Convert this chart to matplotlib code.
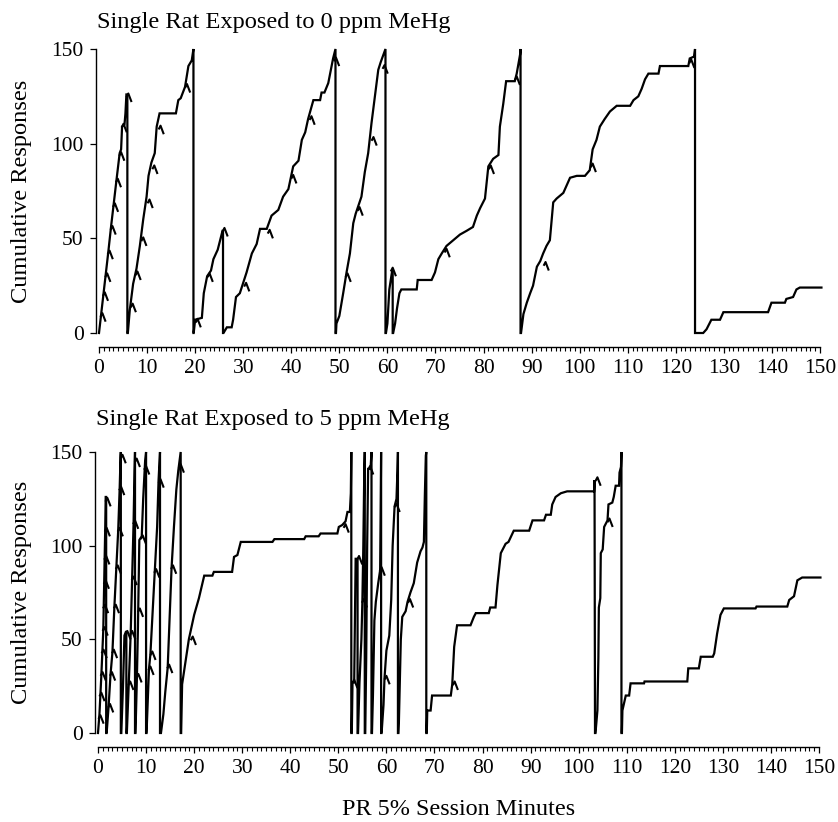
import matplotlib
matplotlib.use("Agg")
import matplotlib.pyplot as plt
from matplotlib.ticker import MultipleLocator

plt.rcParams['font.family'] = ['Liberation Serif', 'DejaVu Serif']

# ---- 0 ppm rat: cumulative record (minutes, responses); resets are drops to 0
t_0ppm = [0, 0.4, 0.9, 1.4, 1.9, 2.5, 3.0, 3.6, 4.3, 4.6, 4.8, 5.3, 5.5, 5.7, 5.9, 5.9,
          6.0, 6.4, 7.1, 7.8, 8.5, 9.2, 9.9, 10.3, 10.9, 11.6, 12.0, 12.6, 16.0, 16.5, 17.0,
          17.9, 18.6, 19.3, 19.65, 19.65,
          19.7, 20.0, 21.4, 21.8, 22.5, 23.3, 23.8, 24.7, 25.2, 25.7, 25.8, 25.8,
          25.9, 26.6, 27.6, 27.9, 28.5, 29.3, 30.7, 31.8, 32.8, 33.5, 34.9, 35.9, 37.3, 38.3,
          39.4, 40.4, 41.5, 42.2, 42.9, 43.5, 44.6, 46.0, 46.3, 46.9, 47.7, 48.4, 48.7, 49.2, 49.2,
          49.3, 49.4, 50.0, 50.8, 51.5, 52.2, 52.9, 53.4, 54.6, 55.3, 56.0, 56.7, 57.4, 58.1,
          58.6, 59.3, 59.6, 59.6,
          59.7, 60.0, 60.4, 61.0, 61.1, 61.1,
          61.2, 61.6, 62.0, 62.5, 62.9, 66.1, 66.3, 69.2, 69.9, 70.6, 71.3, 72.3, 73.7, 75.1,
          76.5, 77.8, 78.6, 79.3, 80.3, 81.0, 82.0, 83.1, 83.4, 84.1, 84.7, 86.5, 86.9, 87.6,
          87.7, 87.7,
          87.8, 88.3, 89.0, 89.7, 90.3, 91.1, 91.8, 92.4, 93.1, 93.8, 94.5, 95.2, 96.6, 97.3,
          98.0, 99.4, 101.1, 102.1, 102.7, 103.5, 104.2, 105.2, 106.3, 107.7, 110.5, 111.2,
          112.2, 112.9, 113.6, 114.3, 116.4, 116.7, 122.6, 122.9, 123.8, 124.0, 124.0,
          124.1, 125.7, 126.4, 127.4, 129.2, 129.9, 139.2, 139.9, 142.7, 143.0, 144.4, 145.1,
          145.8, 150.3]
c_0ppm = [0, 9, 20, 31, 42, 56, 67, 80, 95, 97, 109, 110, 116, 126, 126, 0,
          0, 12, 26, 34, 46, 60, 72, 83, 90, 95, 109, 116, 116, 123, 124,
          130, 141, 144, 150, 0,
          0, 7, 8, 21, 30, 33, 39, 44, 49, 54, 54, 0,
          0, 3, 3, 7, 19, 21, 32, 42, 47, 55, 55, 62, 65, 72,
          76, 88, 91, 102, 106, 113, 123, 123, 127, 127, 132, 141, 145, 150, 0,
          0, 5, 9, 21, 32, 42, 58, 63, 72, 85, 95, 111, 125, 139,
          143, 148, 150, 0,
          0, 5, 23, 33, 33, 0,
          0, 5, 13, 21, 23, 23, 28, 28, 32, 39, 42, 46, 49, 52,
          54, 56, 62, 66, 71, 88, 92, 94, 109, 121, 133, 133, 137, 147,
          150, 0,
          0, 10, 16, 21, 25, 35, 38, 42, 46, 49, 69, 71, 74, 78,
          82, 83, 83, 86, 97, 102, 109, 113, 117, 120, 120, 123,
          125, 129, 134, 137, 137, 141, 141, 145, 146, 150, 0,
          0, 0, 2, 7, 7, 11, 11, 16, 16, 18, 19, 23,
          24, 24]
pip_t_0ppm = [0.4, 0.9, 1.4, 1.9, 2.5, 3.0, 3.6, 4.3, 4.8, 5.8,
              6.7, 7.7, 8.9, 10.2, 11.2, 12.5, 18.0,
              20.2, 22.7, 25.8,
              30.3, 35.2, 40.1, 43.9, 49.0,
              51.4, 53.9, 56.8, 59.1,
              60.8, 72.0, 81.2, 86.6,
              92.6, 102.4, 122.9]
pip_c_0ppm = [9, 20, 30, 42, 55, 67, 80, 94, 109, 125,
              14, 31, 49, 69, 87, 108, 130,
              6, 30, 54,
              25, 53, 82, 113, 144,
              30, 65, 102, 140,
              33, 43, 87, 134,
              36, 88, 143]

# ---- 5 ppm rat
t_5ppm = [0, 0.3, 0.5, 0.7, 0.9, 1.1, 1.2, 1.3, 1.4, 1.5, 1.6, 1.7, 1.7,
          1.8, 2.2, 2.6, 3.0, 3.4, 3.8, 4.2, 4.5, 4.7, 4.75, 4.75,
          4.85, 5.2, 5.5, 5.8, 5.9, 5.9,
          6.0, 6.4, 6.8, 7.1, 7.4, 7.6, 7.7, 7.7,
          7.8, 8.1, 8.3, 8.6, 9.1, 9.4, 9.8, 10.0, 10.0,
          10.1, 10.4, 10.6, 10.9, 11.4, 11.8, 12.3, 12.6, 12.9, 12.9,
          13.1, 13.6, 14.0, 14.5, 14.9, 15.3, 15.8, 16.3, 16.7, 17.0, 17.2, 17.2,
          17.3, 17.5, 18.2, 18.9, 20.0, 21.0, 22.1, 23.8, 24.1, 27.9, 28.3, 29.0, 29.7,
          36.3, 36.7, 42.9, 43.2, 45.9, 46.3, 49.8, 50.1, 50.8, 51.5, 51.9, 52.4, 52.6,
          52.7, 52.7,
          52.8, 52.95, 53.3, 53.6, 54.0, 54.0,
          54.1, 54.4, 54.8, 55.0, 55.2, 55.4, 55.5, 55.5,
          55.6, 55.8, 56.0, 56.2, 56.7, 56.9, 56.9,
          57.0, 57.2, 57.5, 57.8, 58.3, 58.7, 58.8, 58.9, 58.9,
          59.0, 59.4, 59.6, 60.0, 60.6, 61.0, 61.3, 61.7, 62.1, 62.3, 62.4, 62.4,
          62.5, 62.6, 63.0, 63.3, 64.0, 64.4, 65.0, 65.7, 66.4, 67.1, 67.5, 67.8, 68.0,
          68.2, 68.3, 68.3,
          68.4, 68.5, 69.2, 69.5, 73.4, 73.7, 74.1, 74.7, 77.5, 78.2, 78.6, 81.3, 81.6,
          82.7, 83.1, 83.8, 84.8, 85.4, 86.5, 89.7, 90.4, 92.8, 93.2, 94.2, 94.5, 95.2,
          96.3, 97.6, 103.2, 103.3, 103.4,
          103.5, 103.9, 104.1, 104.2, 104.5, 104.6, 105.0, 105.3, 106.0, 106.2, 107.0,
          107.3, 107.7, 108.4, 108.5, 108.8, 108.9, 108.9,
          109.0, 109.1, 109.6, 109.8, 110.5, 110.8, 113.6, 113.7, 122.6, 122.8, 125.0,
          125.4, 127.9, 128.2, 128.8, 129.5, 130.2, 136.8, 137.0, 143.4, 143.8, 144.8,
          145.5, 146.5, 150.3]
c_5ppm = [0, 10, 20, 31, 43, 55, 68, 82, 95, 109, 126, 126, 0,
          0, 14, 31, 43, 67, 88, 108, 130, 148, 150, 0,
          0, 25, 52, 54, 54, 0,
          0, 26, 53, 82, 112, 140, 150, 0,
          0, 30, 55, 103, 105, 125, 145, 150, 0,
          0, 20, 34, 42, 66, 86, 110, 135, 150, 0,
          0, 10, 22, 35, 62, 88, 110, 130, 140, 146, 150, 0,
          0, 26, 38, 50, 63, 72, 84, 84, 86, 86, 94, 95, 102,
          102, 103.5, 103.5, 105, 105, 106.5, 106.5, 110, 111, 113, 118, 118, 128,
          150, 0,
          0, 27, 27, 93, 93, 0,
          0, 27, 50, 70, 100, 140, 150, 0,
          0, 40, 100, 141, 141, 150, 0,
          0, 20, 60, 70, 80, 87, 120, 150, 0,
          0, 15, 29, 44, 52, 71, 100, 121, 125, 140, 150, 0,
          0, 6, 50, 62, 65, 70, 75, 80, 91, 97, 99, 102, 127,
          148, 150, 0,
          0, 12, 12, 20, 20, 26, 46, 57.5, 57.5, 62, 64, 64, 67,
          67, 79, 96, 101, 102, 108, 108, 113.5, 113.5, 116.5, 116.5, 122, 126,
          128, 129, 129, 135, 0,
          0, 12, 40, 67, 72, 96, 98, 110, 113.5, 122, 123,
          126, 132, 132, 139, 142, 150, 0,
          0, 12, 17.6, 20, 20, 26.5, 26.5, 27.5, 27.5, 34.5, 34.5,
          40.7, 40.7, 42.5, 53, 63, 66.5, 66.5, 67.5, 67.5, 71, 73,
          81.5, 83, 83]
pip_t_5ppm = [0.2, 0.4, 0.65, 0.85, 1.05, 1.15, 1.3, 1.4, 1.5, 1.65,
              2.2, 2.6, 3.0, 3.4, 3.8, 4.2, 4.5, 4.8,
              5.8,
              6.4, 6.8, 7.1, 7.4, 7.75,
              8.1, 8.4, 9.0, 9.7,
              10.6, 11.0, 11.8, 12.7,
              14.5, 15.3, 16.9,
              19.4, 51.2,
              53.0, 54.0, 55.0, 56.3, 58.7,
              59.7, 61.8, 64.6, 73.9, 103.6, 106.1]
pip_c_5ppm = [8, 20, 31, 43, 55, 67, 80, 93, 108, 124,
              14, 31, 43, 67, 88, 108, 130, 147,
              53,
              26, 53, 82, 112, 145,
              30, 65, 104, 141,
              34, 42, 86, 134,
              35, 88, 142,
              50, 110,
              27, 93, 70, 141, 87,
              29, 121, 70, 26, 135, 113]

panels = [
    ("Single Rat Exposed to 0 ppm MeHg", t_0ppm, c_0ppm, pip_t_0ppm, pip_c_0ppm),
    ("Single Rat Exposed to 5 ppm MeHg", t_5ppm, c_5ppm, pip_t_5ppm, pip_c_5ppm),
]

fig = plt.figure(figsize=(8.38, 8.22), dpi=100)
rects = [[99 / 838, 1 - 333 / 822, 721 / 838, 284 / 822],
         [98 / 838, 1 - 733 / 822, 721 / 838, 281 / 822]]
title_y = [1 - 28 / 822, 1 - 425 / 822]

for (title, t, c, pt, pc), rect, ty in zip(panels, rects, title_y):
    ax = fig.add_axes(rect)
    ax.plot(t, c, color='black', lw=1.6, clip_on=False, solid_joinstyle='miter')
    # reinforcement pips: small hook to the right of each delivery
    for x, y in zip(pt, pc):
        ax.plot([x, x + 0.3, x + 0.9], [y, y + 1.5, y - 2.5], color='black',
                lw=1.5, clip_on=False)
    ax.set_xlim(0, 150)
    ax.set_ylim(0, 150)
    for side in ['top', 'right']:
        ax.spines[side].set_visible(False)
    ax.spines['left'].set_position(('outward', 2.5))
    ax.spines['bottom'].set_position(('outward', 10))
    ax.spines['left'].set_bounds(0, 150)
    ax.spines['bottom'].set_bounds(0, 150)
    for side in ['left', 'bottom']:
        ax.spines[side].set_linewidth(1.0)
    ax.set_yticks([0, 50, 100, 150])
    ax.xaxis.set_major_locator(MultipleLocator(10))
    ax.xaxis.set_minor_locator(MultipleLocator(1))
    ax.tick_params(axis='both', which='major', length=4.5, width=0.9,
                   labelsize=15.5, pad=4)
    ax.tick_params(axis='x', which='minor', length=3, width=0.8)
    fig.text(rect[0] - 2 / 838, ty, title, fontsize=17.6, va='baseline', ha='left')
    fig.text(22 / 838, rect[1] + rect[3] / 2, "Cumulative Responses", fontsize=17.6,
             rotation=90, va='center', ha='center')

fig.text(459 / 838, 1 - 815 / 822, "PR 5% Session Minutes", fontsize=17.4,
         ha='center', va='baseline')

fig.savefig("out.png", dpi=100)
